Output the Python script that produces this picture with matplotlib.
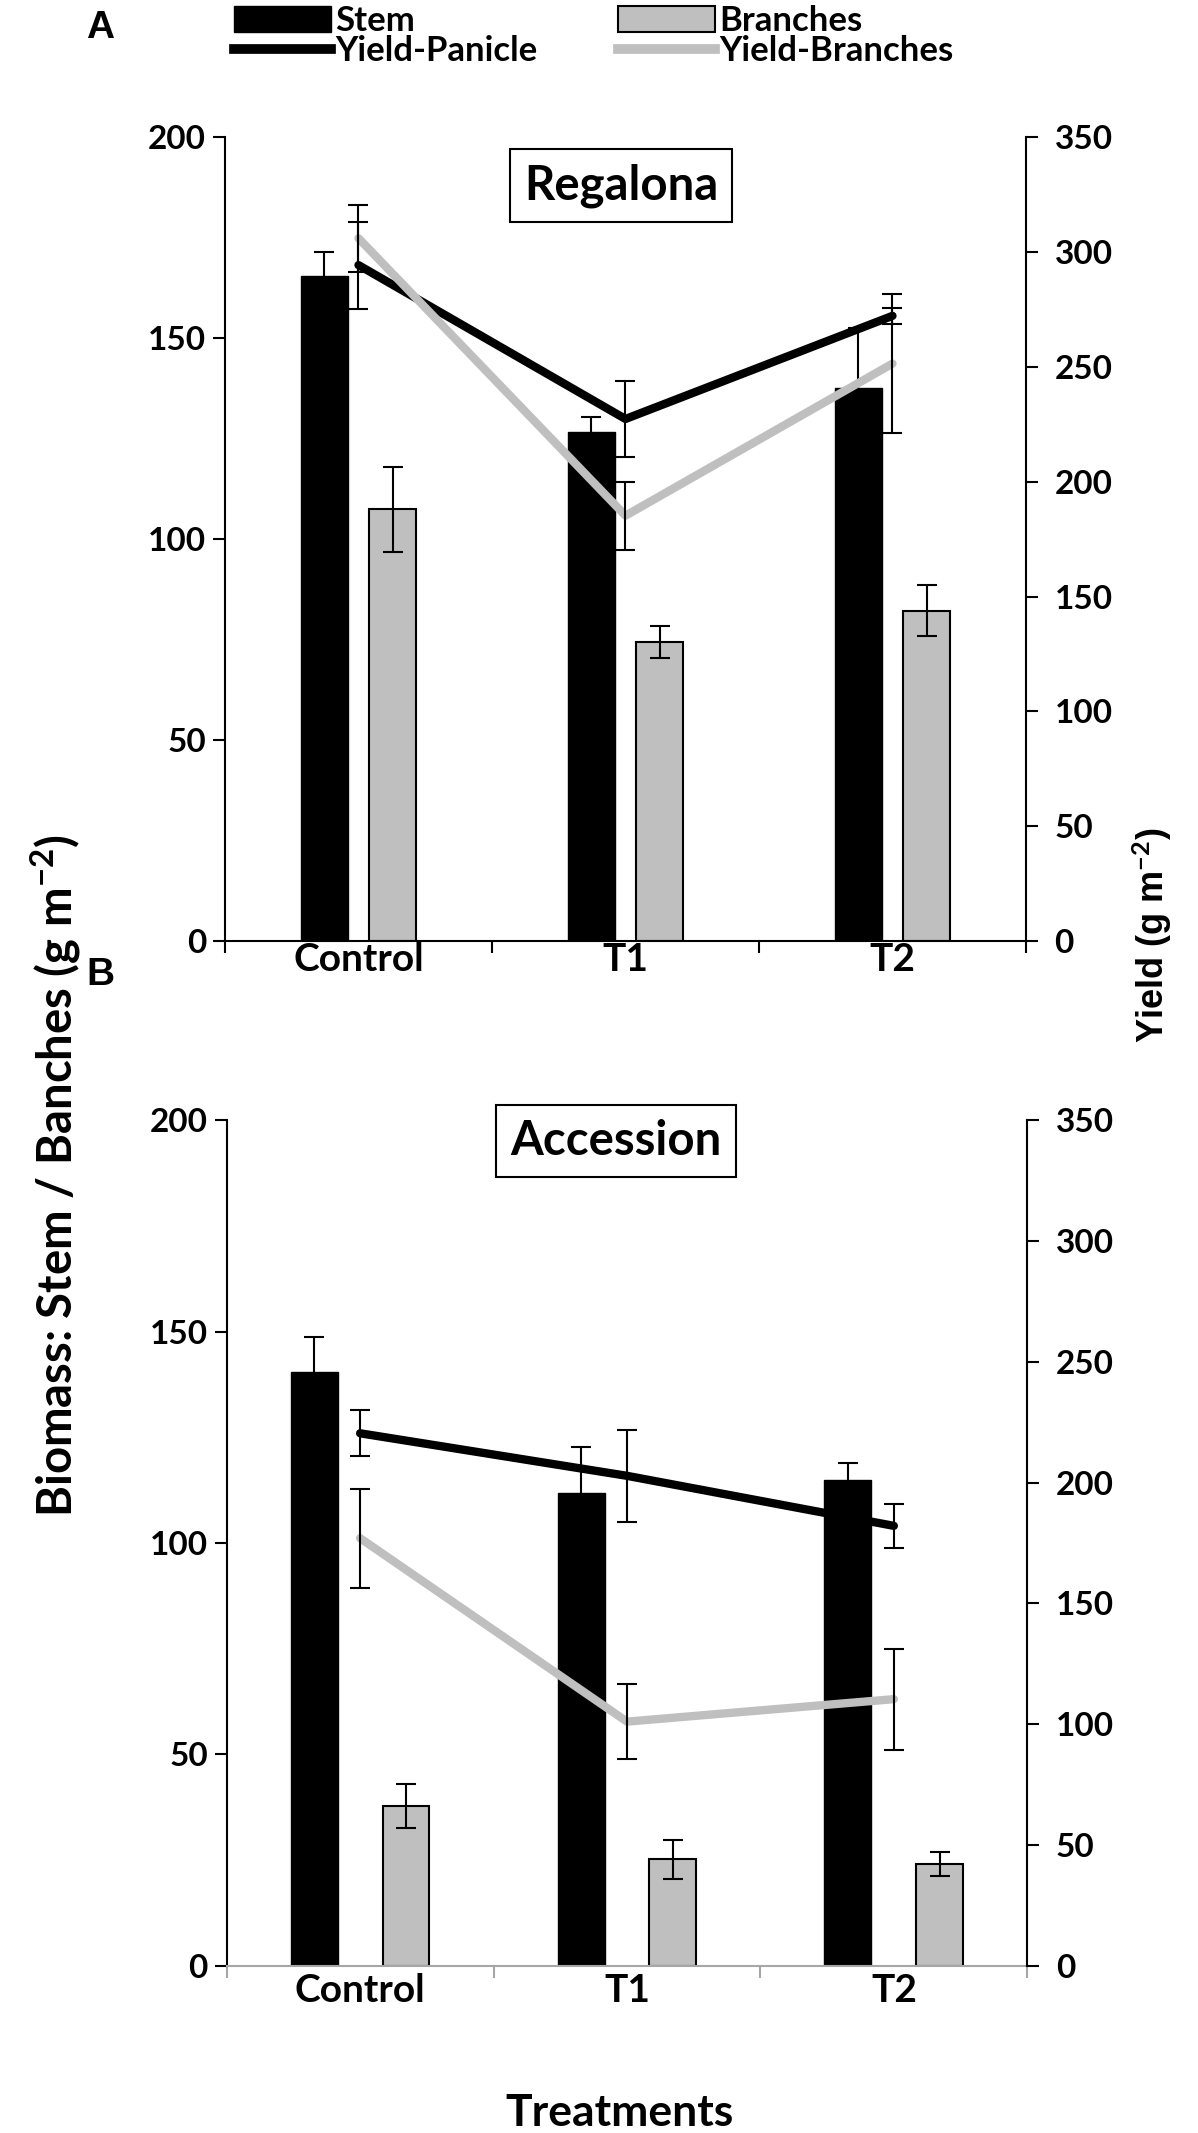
import matplotlib
matplotlib.use('Agg')
import matplotlib.pyplot as plt
from matplotlib.lines import Line2D
from matplotlib.patches import Patch
import numpy as np

plt.rcParams['font.family'] = ['Lato', 'DejaVu Sans']
plt.rcParams['font.weight'] = 'bold'
plt.rcParams['mathtext.fontset'] = 'custom'
plt.rcParams['mathtext.rm'] = 'Lato:bold'
plt.rcParams['mathtext.it'] = 'Lato:bold'
plt.rcParams['mathtext.bf'] = 'Lato:bold'

categories = ['Control', 'T1', 'T2']

# panel A - Regalona
reg_stem = [165.4, 126.7, 137.5]
reg_stem_err = [6.0, 3.6, 15.0]
reg_branches = [107.4, 74.4, 82.2]
reg_branches_err = [10.6, 4.0, 6.3]
reg_yield_panicle = [294.3, 227.3, 272.2]
reg_yield_panicle_err = [18.9, 16.5, 3.5]
reg_yield_branches = [306.0, 185.2, 251.4]
reg_yield_branches_err = [14.6, 14.8, 30.4]

# panel B - Accession
acc_stem = [140.5, 111.9, 114.9]
acc_stem_err = [8.1, 10.7, 4.1]
acc_branches = [37.8, 25.2, 24.1]
acc_branches_err = [5.2, 4.6, 2.8]
acc_yield_panicle = [220.4, 202.8, 182.1]
acc_yield_panicle_err = [9.5, 19.0, 9.0]
acc_yield_branches = [177.0, 101.1, 110.4]
acc_yield_branches_err = [20.5, 15.4, 20.9]

GREY = '#bfbfbf'
W, H = 1198, 2133


def draw_panel(rect, stem, stem_err, br, br_err, yp, yp_err, yb, yb_err,
               title, title_xy, offset, axis_color, xpad):
    ax = fig.add_axes(rect)
    x = np.arange(len(categories)) + 0.5
    ax.bar(x - offset, stem, 0.176, color='black', edgecolor='black', zorder=2)
    ax.bar(x + offset, br, 0.176, color=GREY, edgecolor='black', linewidth=1.5, zorder=2)
    ax.errorbar(x - offset, stem, yerr=stem_err, fmt='none', ecolor='black',
                elinewidth=1.5, capsize=7.5, capthick=1.5, zorder=3)
    ax.errorbar(x + offset, br, yerr=br_err, fmt='none', ecolor='black',
                elinewidth=1.5, capsize=7.5, capthick=1.5, zorder=3)
    ax.set_xlim(0, 3)
    ax.set_ylim(0, 200)
    ax.set_yticks(np.arange(0, 201, 50))
    ax.set_xticks([0, 1, 2, 3])
    ax.set_xticklabels([])
    ax.set_xticks(x, minor=True)
    ax.set_xticklabels(categories, minor=True)
    ax.tick_params(axis='x', which='minor', length=0, pad=xpad, labelsize=28)
    ax.tick_params(axis='x', which='major', length=8.5, width=1.5, color=axis_color)
    ax.tick_params(axis='y', length=8.5, width=1.5, pad=5, labelsize=24)
    ax.spines['top'].set_visible(False)
    ax.spines['right'].set_visible(False)
    ax.spines['left'].set_linewidth(1.5)
    ax.spines['bottom'].set_linewidth(1.5)
    ax.spines['bottom'].set_color(axis_color)

    ax2 = ax.twinx()
    ax2.plot(x, yp, color='black', lw=6, solid_capstyle='round', zorder=2)
    ax2.plot(x, yb, color=GREY, lw=6, solid_capstyle='round', zorder=3)
    ax2.errorbar(x, yp, yerr=yp_err, fmt='none', ecolor='black',
                 elinewidth=1.5, capsize=7.5, capthick=1.5, zorder=4)
    ax2.errorbar(x, yb, yerr=yb_err, fmt='none', ecolor='black',
                 elinewidth=1.5, capsize=7.5, capthick=1.5, zorder=4)
    ax2.set_ylim(0, 350)
    ax2.set_yticks(np.arange(0, 351, 50))
    ax2.tick_params(axis='y', length=8.5, width=1.5, pad=12, labelsize=24)
    for s in ['top', 'left', 'bottom']:
        ax2.spines[s].set_visible(False)
    ax2.spines['right'].set_linewidth(1.5)

    ax2.text(title_xy[0], title_xy[1], title, transform=ax2.get_xaxis_transform(),
             ha='center', va='center', fontsize=34, fontweight='bold',
             bbox=dict(boxstyle='square,pad=0.3', facecolor='white',
                       edgecolor='black', linewidth=1.5), zorder=5)
    return ax, ax2


fig = plt.figure(figsize=(W / 100, H / 100), dpi=100)

axA, axA2 = draw_panel([0.1878, 0.5588, 0.6686, 0.3769],
                       reg_stem, reg_stem_err, reg_branches, reg_branches_err,
                       reg_yield_panicle, reg_yield_panicle_err,
                       reg_yield_branches, reg_yield_branches_err,
                       'Regalona', (1.483, 0.940), 0.129, 'black', 1)
axB, axB2 = draw_panel([0.1892, 0.0783, 0.6683, 0.3966],
                       acc_stem, acc_stem_err, acc_branches, acc_branches_err,
                       acc_yield_panicle, acc_yield_panicle_err,
                       acc_yield_branches, acc_yield_branches_err,
                       'Accession', (1.459, 0.975), 0.172, '#a6a6a6', 5)

handles = [Patch(facecolor='black', edgecolor='black'),
           Line2D([], [], color='black', lw=7),
           Patch(facecolor=GREY, edgecolor='black', linewidth=1.5),
           Line2D([], [], color=GREY, lw=7)]
labels = ['Stem', 'Yield-Panicle', 'Branches', 'Yield-Branches']
fig.legend(handles, labels, ncol=2, loc='upper left',
           bbox_to_anchor=(234 / W, 1 - 5 / H), frameon=False,
           prop={'size': 25, 'weight': 'bold'}, handlelength=2.8,
           handleheight=0.78, handletextpad=0.12, columnspacing=2.3,
           labelspacing=-0.05, borderpad=0, borderaxespad=0)

fig.text(100 / W, 1 - 28 / H, 'A', fontsize=28, fontweight='bold',
         family='Liberation Sans', ha='center', va='center')
fig.text(100 / W, 1 - 975 / H, 'B', fontsize=28, fontweight='bold',
         family='Liberation Sans', ha='center', va='center')

fig.text(55 / W, 1 - 1175 / H, r'Biomass: Stem / Banches (g m$^{-2}$)',
         rotation=90, fontsize=34, fontweight='bold', ha='center', va='center')
fig.text(1152 / W, 1 - 935 / H, r'Yield (g m$^{-2}$)', rotation=90,
         fontsize=26, fontweight='bold', family='Liberation Sans',
         ha='center', va='center')
fig.text(620 / W, 1 - 2113 / H, 'Treatments', fontsize=32, fontweight='bold',
         ha='center', va='center')

fig.savefig('out.png', dpi=100)
